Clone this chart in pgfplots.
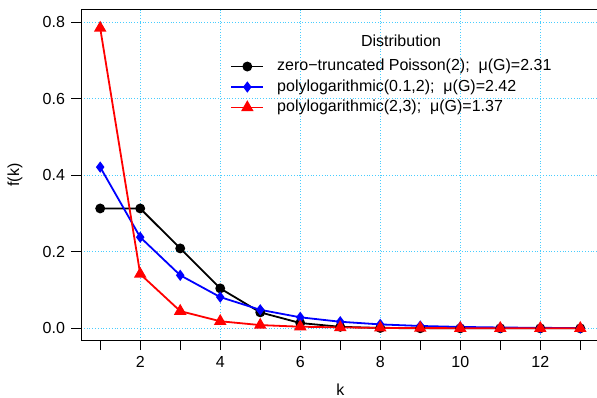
\documentclass[border=0pt]{standalone}
\usepackage{fontspec}
\setmainfont{Liberation Sans}
\usepackage{pgfplots}
\pgfplotsset{compat=1.18}
\usetikzlibrary{calc}
\definecolor{gridc}{RGB}{70,205,255}
\newcommand{\ff}{\fontsize{16}{19}\selectfont}
\newcommand{\fl}{\fontsize{16}{19}\selectfont}
\begin{document}
\begin{tikzpicture}
\begin{axis}[
  name=main,
  scale only axis,
  width=518.5pt, height=330.9pt,
  xmin=0.52, xmax=13.48,
  ymin=-0.032, ymax=0.832,
  font=\ff,
  tick label style={font=\ff},
  label style={font=\ff},
  /pgf/number format/assume math mode=true,
  axis line style={line width=0.9pt},
  tick style={line width=0.9pt, black},
  tick align=outside,
  xtick pos=bottom, ytick pos=left,
  major tick length=9.5pt, minor tick length=9.5pt,
  xtick={2,4,...,12},
  minor xtick={1,3,...,13},
  ytick={0,0.2,0.4,0.6,0.8},
  yticklabel style={/pgf/number format/fixed, /pgf/number format/fixed zerofill, /pgf/number format/precision=1, xshift=-3pt},
  xticklabel style={yshift=-3pt},
  ymajorgrids, xmajorgrids,
  major grid style={gridc, line width=0.8pt, dotted},
  xlabel={k}, ylabel={f(k)},
  every axis x label/.style={at={(axis description cs:0.5,-0.148)}, anchor=center, font=\ff},
  every axis y label/.style={at={(axis description cs:-0.1273,0.5)}, anchor=center, rotate=90, font=\ff},
  legend style={draw=none, fill=none, at={(axis cs:4.25,0.705)}, anchor=north west,
    font=\fl, row sep=4.5pt, inner sep=0pt, nodes={inner sep=1pt, text height=11pt, text depth=3pt},
    /tikz/every odd column/.append style={column sep=12pt}},
  legend cell align=left,
  legend image code/.code={\draw[line width=1.8pt, mark repeat=2,mark phase=2] plot coordinates {(0pt,0pt)(16pt,0pt)(32pt,0pt)};},
]
\addplot[black, line width=1.8pt, mark=*, mark size=4pt, mark options={solid}] coordinates {
(1,0.3130)(2,0.3130)(3,0.2087)(4,0.1043)(5,0.0417)(6,0.0139)(7,0.0040)(8,0.0010)(9,0.0002)(10,0.00004)(11,0.00001)(12,0)(13,0)};
\addlegendentry{zero−truncated Poisson(2);\ \ μ(G)=2.31}
\addplot[blue, line width=1.8pt, mark=diamond*, mark size=4.2pt, mark options={solid}] coordinates {
(1,0.421)(2,0.238)(3,0.1386)(4,0.0816)(5,0.0484)(6,0.0288)(7,0.0172)(8,0.0103)(9,0.0062)(10,0.0037)(11,0.0022)(12,0.0013)(13,0.0008)};
\addlegendentry{polylogarithmic(0.1,2);\ \ μ(G)=2.42}
\addplot[red, line width=1.8pt, mark=triangle*, mark size=5.5pt, mark options={solid}] coordinates {
(1,0.784)(2,0.1417)(3,0.045)(4,0.0185)(5,0.0085)(6,0.0043)(7,0.0023)(8,0.0013)(9,0.0007)(10,0.0004)(11,0.0002)(12,0.0001)(13,0.0001)};
\addlegendentry{polylogarithmic(2,3);\ \ μ(G)=1.37}
\node[font=\fl, anchor=center] at (axis cs:8.52,0.7504) {Distribution};
\end{axis}
\pgfresetboundingbox
\path[use as bounding box] ($(main.south west)+(-81pt,-57.4pt)$) rectangle ($(main.south west)+(516pt,340.6pt)$);
\end{tikzpicture}
\end{document}
